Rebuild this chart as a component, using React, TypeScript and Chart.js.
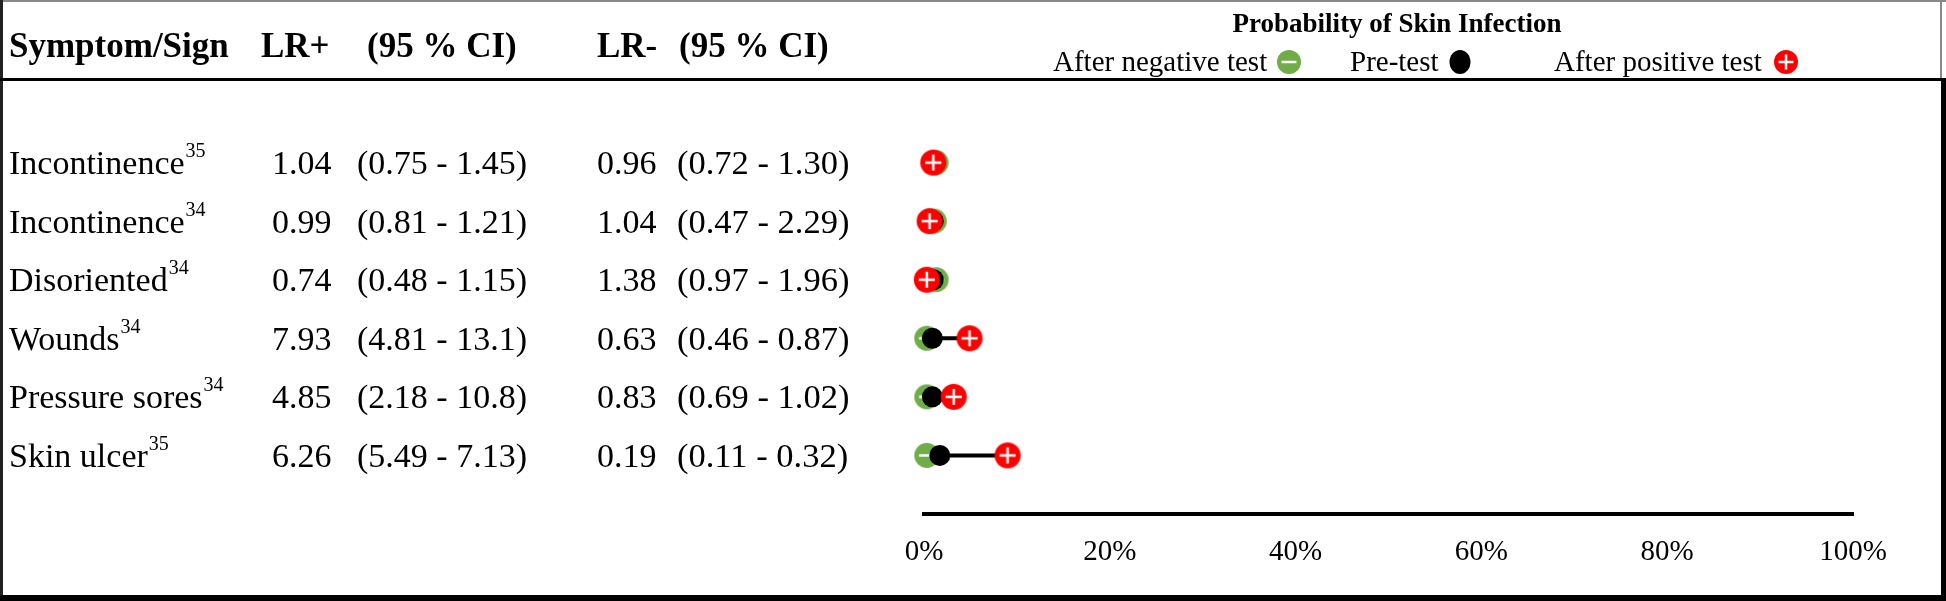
import React, { useEffect, useRef } from "react";
import { Chart, registerables } from "chart.js";

Chart.register(...registerables);

// ---------- data ----------
const symptoms = ["Incontinence", "Incontinence", "Disoriented", "Wounds", "Pressure sores", "Skin ulcer"];
const refs = ["35", "34", "34", "34", "34", "35"];
const lrPos = ["1.04", "0.99", "0.74", "7.93", "4.85", "6.26"];
const lrPosCI = ["(0.75 - 1.45)", "(0.81 - 1.21)", "(0.48 - 1.15)", "(4.81 - 13.1)", "(2.18 - 10.8)", "(5.49 - 7.13)"];
const lrNeg = ["0.96", "1.04", "1.38", "0.63", "0.83", "0.19"];
const lrNegCI = ["(0.72 - 1.30)", "(0.47 - 2.29)", "(0.97 - 1.96)", "(0.46 - 0.87)", "(0.69 - 1.02)", "(0.11 - 0.32)"];
// probabilities in %
const probNeg = [1.3, 1.1, 1.3, 0.3, 0.3, 0.3];
const probPre = [1.2, 1.0, 1.0, 0.9, 0.9, 1.7];
const probPos = [1.0, 0.6, 0.3, 4.9, 3.2, 9.0];
const xTicks = [0, 20, 40, 60, 80, 100];

const headers = ["Symptom/Sign", "LR+", "(95 % CI)", "LR-", "(95 % CI)"];
const chartTitle = "Probability of Skin Infection";
const legendLabels = ["After negative test", "Pre-test", "After positive test"];

const SERIF = '"Liberation Serif", "Times New Roman", serif';
const RED = "#ff0000";
const GREEN = "#70ad47";

function makeMarker(kind: "pos" | "neg", r: number): HTMLCanvasElement {
  const size = Math.ceil(r * 2) + 2;
  const c = document.createElement("canvas");
  c.width = size;
  c.height = size;
  const g = c.getContext("2d")!;
  const m = size / 2;
  g.fillStyle = kind === "pos" ? RED : GREEN;
  g.beginPath();
  g.arc(m, m, r, 0, Math.PI * 2);
  g.fill();
  g.strokeStyle = "#ffffff";
  g.lineWidth = 2.5;
  g.beginPath();
  const a = r * 0.62;
  g.moveTo(m - a, m);
  g.lineTo(m + a, m);
  if (kind === "pos") {
    g.moveTo(m, m - a);
    g.lineTo(m, m + a);
  }
  g.stroke();
  return c;
}

export default function App() {
  const ref = useRef<HTMLCanvasElement>(null);

  useEffect(() => {
    document.body.style.margin = "0";
    document.body.style.background = "#ffffff";
    const canvas = ref.current!;
    const posImg = makeMarker("pos", 13);
    const negImg = makeMarker("neg", 12.5);
    const legPos = makeMarker("pos", 12);
    const legNeg = makeMarker("neg", 12);

    const rows = symptoms.map((_, i) => i);

    const lineSets = rows.map((i) => ({
      label: "line" + i,
      data: [
        { x: probPre[i], y: i },
        { x: probPos[i], y: i },
      ],
      showLine: true,
      borderColor: "#000000",
      borderWidth: 4,
      pointRadius: 0,
      order: 4,
      clip: false,
    }));

    const tablePlugin = {
      id: "tableText",
      afterDraw(chart: any) {
        const ctx: CanvasRenderingContext2D = chart.ctx;
        const yScale = chart.scales.y;
        ctx.save();
        // frame
        ctx.fillStyle = "#888888";
        ctx.fillRect(0, 0, 1946, 2);
        ctx.fillRect(1940, 0, 2, 80);
        ctx.fillStyle = "#222222";
        ctx.fillRect(0, 0, 3, 601);
        ctx.fillStyle = "#000000";
        ctx.fillRect(0, 78, 1942, 3);
        ctx.fillRect(1941, 78, 5, 523);
        ctx.fillRect(0, 595, 1946, 6);

        // header
        ctx.fillStyle = "#000000";
        ctx.textBaseline = "alphabetic";
        ctx.textAlign = "left";
        ctx.font = `bold 35px ${SERIF}`;
        const hx = [9, 261, 367, 597, 679];
        headers.forEach((h, k) => ctx.fillText(h, hx[k], 57));

        // title + legend
        ctx.font = `bold 27px ${SERIF}`;
        ctx.textAlign = "center";
        ctx.fillText(chartTitle, 1397, 32);
        ctx.textAlign = "left";
        ctx.font = `29px ${SERIF}`;
        const lx = [1053, 1350, 1554];
        legendLabels.forEach((t, k) => ctx.fillText(t, lx[k], 71));
        const ly = 62;
        ctx.drawImage(legNeg, 1289 - legNeg.width / 2, ly - legNeg.height / 2);
        ctx.beginPath();
        ctx.ellipse(1460, ly, 10.5, 12, 0, 0, Math.PI * 2);
        ctx.fill();
        ctx.drawImage(legPos, 1786 - legPos.width / 2, ly - legPos.height / 2);

        // rows
        rows.forEach((i) => {
          const cy = yScale.getPixelForValue(i);
          const base = cy + 11.5;
          ctx.font = `34px ${SERIF}`;
          ctx.fillText(symptoms[i], 9, base);
          const w = ctx.measureText(symptoms[i]).width;
          ctx.fillText(lrPos[i], 272, base);
          ctx.fillText(lrPosCI[i], 357, base);
          ctx.fillText(lrNeg[i], 597, base);
          ctx.font = `34.5px ${SERIF}`;
          ctx.fillText(lrNegCI[i], 677, base);
          ctx.font = `20px ${SERIF}`;
          ctx.fillText(refs[i], 9 + w + 1, base - 17);
        });
        ctx.restore();
      },
    };

    const chart = new Chart(canvas, {
      type: "scatter",
      data: {
        datasets: [
          {
            label: legendLabels[2],
            data: rows.map((i) => ({ x: probPos[i], y: i })),
            pointStyle: posImg as any,
            pointRadius: 13,
            order: 1,
            clip: false,
          } as any,
          {
            label: legendLabels[1],
            data: rows.map((i) => ({ x: probPre[i], y: i })),
            pointStyle: "circle",
            pointRadius: 10.5,
            backgroundColor: "#000000",
            borderWidth: 0,
            order: 2,
            clip: false,
          },
          {
            label: legendLabels[0],
            data: rows.map((i) => ({ x: probNeg[i], y: i })),
            pointStyle: negImg as any,
            pointRadius: 12.5,
            order: 3,
            clip: false,
          } as any,
          ...(lineSets as any[]),
        ],
      },
      options: {
        responsive: false,
        animation: false,
        devicePixelRatio: 1,
        events: [],
        layout: { padding: { left: 924, right: 93, top: 104, bottom: 0 } },
        plugins: {
          legend: { display: false },
          tooltip: { enabled: false },
          title: { display: false },
        },
        scales: {
          x: {
            type: "linear",
            position: "bottom",
            min: 0,
            max: 100,
            grid: { display: false, drawTicks: false },
            border: { display: true, color: "#000000", width: 4 },
            afterBuildTicks: (s: any) => {
              s.ticks = xTicks.map((v) => ({ value: v }));
            },
            afterFit: (s: any) => {
              s.height = 87;
            },
            ticks: {
              padding: 21,
              color: "#000000",
              maxRotation: 0,
              autoSkip: false,
              font: { family: SERIF, size: 29 },
              callback: (v: any) => v + "%",
            },
          } as any,
          y: {
            type: "linear",
            display: false,
            reverse: true,
            min: -1,
            max: 6,
          },
        },
      },
      plugins: [tablePlugin],
    });

    return () => chart.destroy();
  }, []);

  return (
    <div style={{ width: 1946, height: 601, background: "#ffffff" }}>
      <canvas ref={ref} width={1946} height={601} style={{ display: "block", width: 1946, height: 601 }} />
    </div>
  );
}
